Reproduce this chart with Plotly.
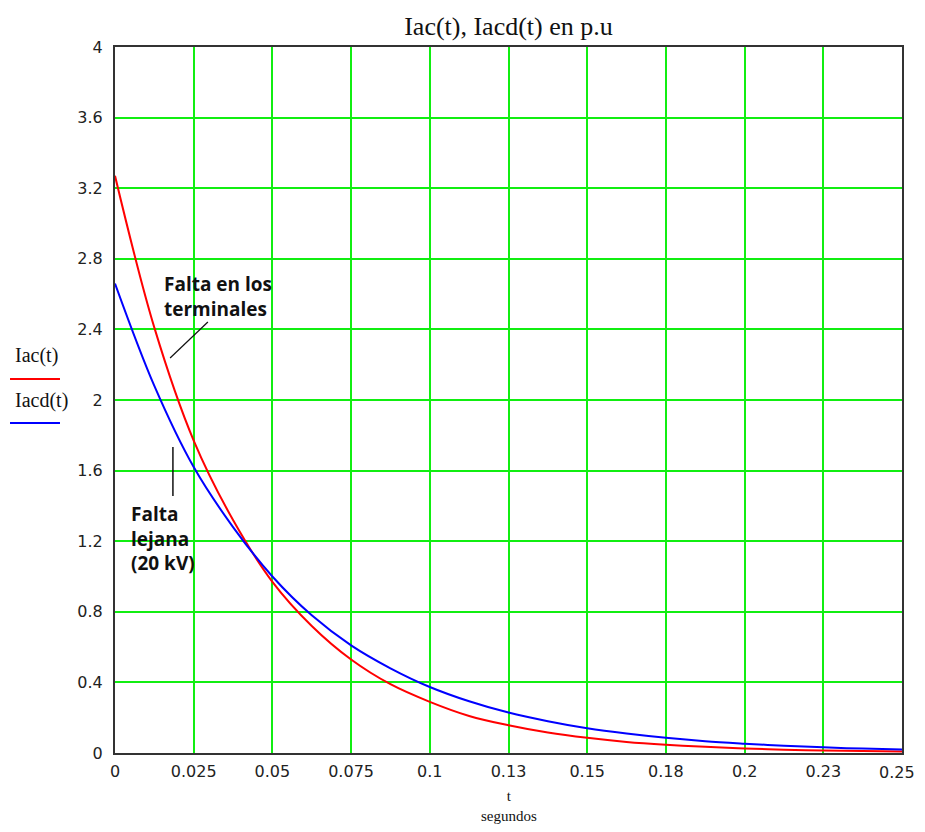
import plotly.graph_objects as go

# time samples (s) and the two curves (p.u.)
t = [0, 0.0125, 0.025, 0.0375, 0.05, 0.0625, 0.075, 0.0875, 0.1, 0.1125, 0.125,
     0.1375, 0.15, 0.1625, 0.175, 0.1875, 0.2, 0.2125, 0.225, 0.2375, 0.25]
iac = [3.27, 2.41, 1.77, 1.32, 0.97, 0.72, 0.53, 0.39, 0.29, 0.21, 0.157,
       0.116, 0.086, 0.063, 0.047, 0.035, 0.026, 0.019, 0.014, 0.011, 0.008]
iacd = [2.66, 2.08, 1.62, 1.28, 1.00, 0.78, 0.61, 0.48, 0.374, 0.293, 0.229,
        0.180, 0.140, 0.110, 0.086, 0.067, 0.053, 0.041, 0.032, 0.025, 0.020]

x_ticks = [0, 0.025, 0.05, 0.075, 0.1, 0.125, 0.15, 0.175, 0.2, 0.225, 0.25]
x_labels = ["0", "0.025", "0.05", "0.075", "0.1", "0.13", "0.15", "0.18", "0.2", "0.23", "0.25"]
y_ticks = [0, 0.4, 0.8, 1.2, 1.6, 2.0, 2.4, 2.8, 3.2, 3.6, 4.0]
y_labels = ["0", "0.4", "0.8", "1.2", "1.6", "2", "2.4", "2.8", "3.2", "3.6", "4"]

fig = go.Figure()
fig.add_trace(go.Scatter(x=t, y=iac, mode="lines", name="Iac(t)",
                         line=dict(color="#ff0000", width=2, shape="spline")))
fig.add_trace(go.Scatter(x=t, y=iacd, mode="lines", name="Iacd(t)",
                         line=dict(color="#0000ff", width=2, shape="spline")))

tick_font = dict(family="DejaVu Sans", size=16, color="#222")
serif = "Liberation Serif"
bold = dict(family="Open Sans", size=19, color="#111", weight="bold")

# page body has an 8px margin, so the figure is offset by 8px in the window
fig.update_layout(
    width=909, height=816,
    margin=dict(l=107, r=15, t=39, b=71),
    plot_bgcolor="white", paper_bgcolor="white",
    showlegend=False,
    title=dict(text="Iac(t), Iacd(t) en p.u", x=0.5, xref="paper", y=0.978, yref="container",
               xanchor="center", yanchor="middle",
               font=dict(family=serif, size=26, color="#111")),
    xaxis=dict(range=[0, 0.25], tickvals=x_ticks[:-1], ticktext=x_labels[:-1], tickfont=tick_font,
               showgrid=True, gridcolor="#11ee11", gridwidth=2, zeroline=False,
               showline=True, linecolor="#333", linewidth=2, mirror=True,
               ticks="", ticklabelstandoff=3),
    yaxis=dict(range=[0, 4], tickvals=y_ticks, ticktext=y_labels, tickfont=tick_font,
               showgrid=True, gridcolor="#11ee11", gridwidth=2, zeroline=False,
               showline=True, linecolor="#333", linewidth=2, mirror=True,
               ticks="", ticklabelstandoff=7),
)

# last x tick label sits at the page edge; nudge it in so it is not clipped
fig.add_annotation(text=x_labels[-1], x=x_ticks[-1], y=0, yref="paper", showarrow=False,
                   yanchor="top", yshift=-9, xshift=-5, borderpad=0, font=tick_font)

# axis label (Mathcad style)
fig.add_annotation(text="t<br>segundos", x=0.5, y=-0.075, xref="paper", yref="paper", showarrow=False,
                   yanchor="middle", borderpad=0, font=dict(family=serif, size=15, color="#111"))

# y-side legend
fig.add_annotation(text="Iac(t)", x=-0.1296, y=0.5637, xref="paper", yref="paper", showarrow=False,
                   xanchor="left", font=dict(family=serif, size=20, color="#111"))
fig.add_annotation(text="Iacd(t)", x=-0.1296, y=0.500, xref="paper", yref="paper", showarrow=False,
                   xanchor="left", font=dict(family=serif, size=20, color="#111"))
fig.add_shape(type="line", xref="paper", yref="paper", x0=-0.1334, x1=-0.0699, y0=0.5297, y1=0.5297,
              line=dict(color="#ff0000", width=2))
fig.add_shape(type="line", xref="paper", yref="paper", x0=-0.1334, x1=-0.0699, y0=0.4674, y1=0.4674,
              line=dict(color="#0000ff", width=2))

# callouts
fig.add_annotation(text="Falta en los<br>terminales", x=0.0149, y=2.586, xanchor="left", yanchor="middle",
                   align="left", showarrow=False, font=bold)
fig.add_annotation(text="Falta<br>lejana<br>(20 kV)", x=0.00445, y=1.218, xanchor="left", yanchor="middle",
                   align="left", showarrow=False, font=bold)
fig.add_shape(type="line", x0=0.0175, y0=2.238, x1=0.0295, y1=2.442,
              line=dict(color="#111", width=1.2))
fig.add_shape(type="line", x0=0.0184, y0=1.734, x1=0.0184, y1=1.456,
              line=dict(color="#111", width=1.5))

fig.write_html("out.html")
